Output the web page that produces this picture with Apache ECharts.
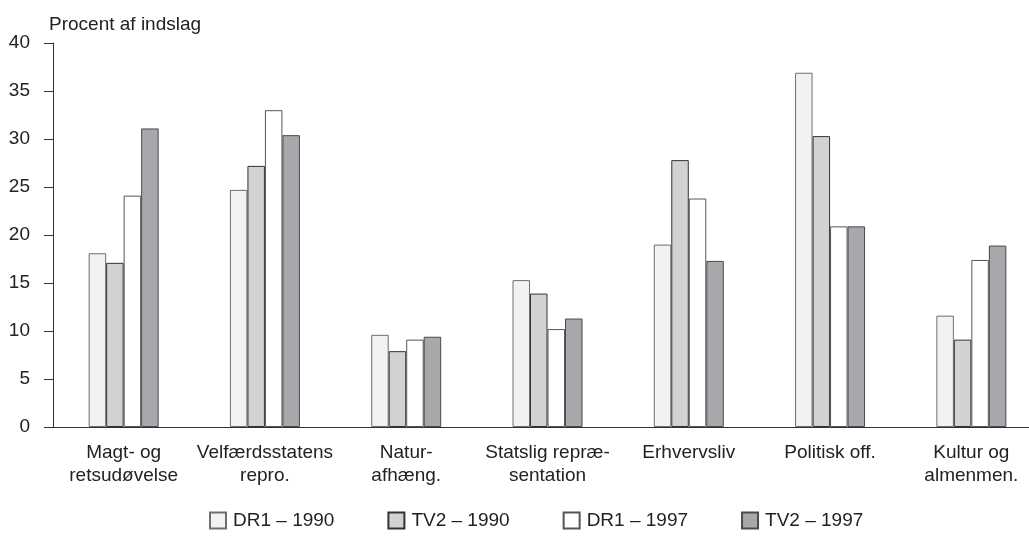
<!DOCTYPE html>
<html>
<head>
<meta charset="utf-8">
<script src="https://cdn.jsdelivr.net/npm/echarts@6/dist/echarts.min.js"></script>
<style>html,body{margin:0;padding:0;background:#fff;}#c{width:1029px;height:540px;}</style>
</head>
<body>
<div id="c"></div>
<script>
const categories = ['Magt- og\nretsudøvelse', 'Velfærdsstatens\nrepro.', 'Natur-\nafhæng.', 'Statslig repræ-\nsentation', 'Erhvervsliv', 'Politisk off.', 'Kultur og\nalmenmen.'];
const seriesNames = ['DR1 – 1990', 'TV2 – 1990', 'DR1 – 1997', 'TV2 – 1997'];
const dr1_1990 = [18.1, 24.7, 9.6, 15.3, 19.0, 36.9, 11.6];
const tv2_1990 = [17.1, 27.2, 7.9, 13.9, 27.8, 30.3, 9.1];
const dr1_1997 = [24.1, 33.0, 9.1, 10.2, 23.8, 20.9, 17.4];
const tv2_1997 = [31.1, 30.4, 9.4, 11.3, 17.3, 20.9, 18.9];
const yTicks = [0, 5, 10, 15, 20, 25, 30, 35, 40];

const fills = ['#f1f2f3', '#d1d2d4', '#ffffff', '#a7a8ab'];
const borders = ['#6e6e6e', '#333333', '#555555', '#4a4a4a'];
const values = [dr1_1990, tv2_1990, dr1_1997, tv2_1997];
const FONT = "'Liberation Sans', Arial, sans-serif";

const chart = echarts.init(document.getElementById('c'));
chart.setOption({
  animation: false,
  backgroundColor: '#fff',
  textStyle: { fontFamily: FONT, color: '#222' },
  title: {
    text: 'Procent af indslag', left: 44, top: 10,
    textStyle: { fontFamily: FONT, fontSize: 19, fontWeight: 'normal', color: '#222' }
  },
  legend: {
    top: 506, left: 204,
    itemWidth: 16, itemHeight: 16, itemGap: 53,
    icon: 'rect',
    textStyle: { fontFamily: FONT, fontSize: 19, color: '#222', padding: [0, 0, 0, 2] },
    data: seriesNames
  },
  grid: { left: 53, width: 989, top: 43, bottom: 113, containLabel: false, outerBoundsMode: 'none' },
  xAxis: {
    type: 'category', data: categories,
    axisTick: { show: false },
    axisLine: { lineStyle: { color: '#333', width: 1 } },
    axisLabel: { fontFamily: FONT, fontSize: 19, color: '#222', margin: 14, lineHeight: 23, interval: 0 }
  },
  yAxis: {
    type: 'value', min: yTicks[0], max: yTicks[yTicks.length - 1], interval: 5,
    splitLine: { show: false },
    axisLine: { show: true, lineStyle: { color: '#333', width: 1 } },
    axisTick: { show: true, length: 9, lineStyle: { color: '#333' } },
    axisLabel: { fontFamily: FONT, fontSize: 19, color: '#222', margin: 23 }
  },
  series: seriesNames.map((n, i) => ({
    name: n, type: 'bar', data: values[i],
    barWidth: 17.5, barGap: '0%',
    itemStyle: { color: fills[i], borderColor: borders[i], borderWidth: 1 }
  }))
});
</script>
</body>
</html>
